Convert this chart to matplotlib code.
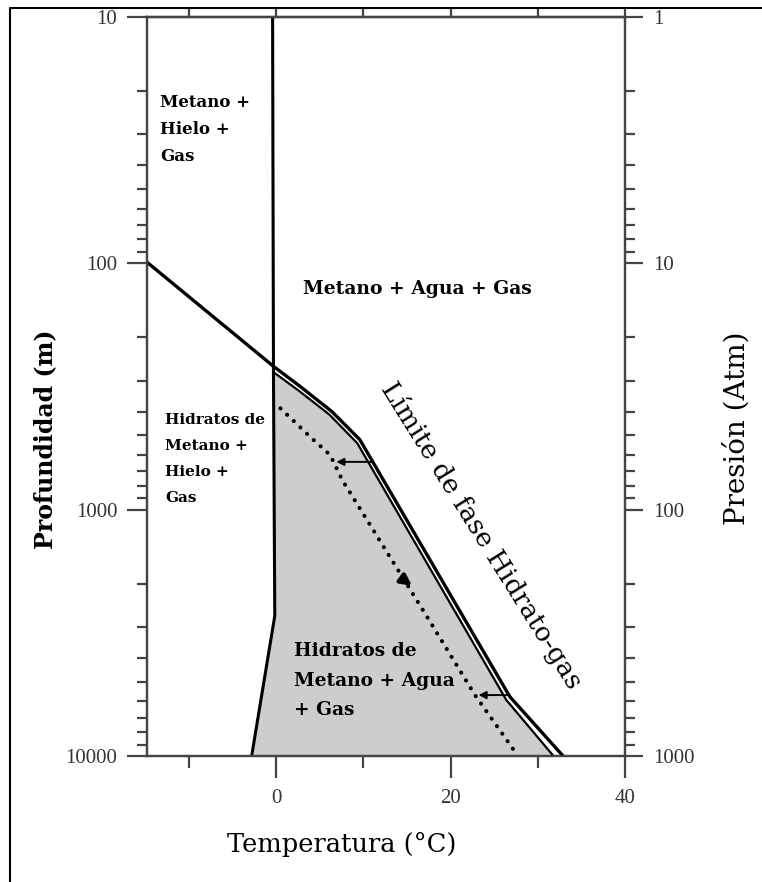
import matplotlib.pyplot as plt
from matplotlib.lines import Line2D
from matplotlib.ticker import NullFormatter

# curva de fusión del hielo: temperatura (°C) y profundidad (m)
hielo_t = [-0.4, -0.3, -0.15, -2.8]
hielo_z = [10, 280, 2700, 10000]

# límite de fase hidrato-gas (línea exterior, empieza en el eje)
limite_t = [-14.8, -0.3, 2.8, 6.4, 9.6, 26.8, 32.9]
limite_z = [99, 262, 317, 400, 520, 5750, 10000]

# línea interior que cierra la zona de estabilidad
interior_t = [-0.1, 2.5, 6.1, 9.3, 26.4, 31.8]
interior_z = [280, 327, 411, 537, 5930, 10000]

# perfil punteado
punteado_t = [0.5, 3.9, 6.2, 7.6, 17.3, 22.8, 27.4]
punteado_z = [388, 506, 600, 760, 2720, 5660, 9620]

# flechas: (desde, hasta)
flechas = [((11.0, 640), (6.9, 640)), ((26.8, 5660), (23.2, 5660))]
flecha_perfil = ((14.4, 1900), (15.6, 2040))

prof_ticks = [10, 100, 1000, 10000]
pres_ticks = [1, 10, 100, 1000]
temp_ticks = [0, 20, 40]
temp_minor = [-10, 10, 30]

# etiquetas de cada zona: texto, t, z, tamaño, interlineado
zonas = [
    ("Metano +\nHielo +\nGas", -13.3, 20.5, 12, 1.78),
    ("Metano + Agua + Gas", 3.1, 117, 13.5, 1.2),
    ("Hidratos de\nMetano +\nHielo +\nGas", -12.7, 405, 11, 2.1),
    ("Hidratos de\nMetano + Agua\n+ Gas", 2.0, 3450, 13.4, 1.82),
]

plt.rcParams['font.family'] = 'Liberation Serif'
eje_color = '#444444'

fig = plt.figure(figsize=(7.62, 8.82), dpi=100)
ax = fig.add_axes([0.1929, 0.1429, 0.6273, 0.8379])
ax.set_xlim(-14.8, 40)
ax.set_yscale('log')
ax.set_ylim(10000, 10)

# zona de estabilidad en gris
fill_t = interior_t + [hielo_t[3], hielo_t[2], hielo_t[1]]
fill_z = interior_z + [hielo_z[3], hielo_z[2], hielo_z[1]]
ax.fill(fill_t, fill_z, color='#cdcdcd', lw=0, zorder=1)

ax.plot(hielo_t, hielo_z, color='black', lw=2.2, zorder=3)
ax.plot(limite_t, limite_z, color='black', lw=2.4, zorder=3)
ax.plot(interior_t, interior_z, color='black', lw=1.6, zorder=3)
ax.plot(punteado_t, punteado_z, color='black', lw=3.0,
        linestyle=(0, (0.01, 2.2)), dash_capstyle='round', zorder=3)

for ini, fin in flechas:
    ax.annotate('', xy=fin, xytext=ini,
                arrowprops=dict(arrowstyle='-|>', color='black', lw=1.4,
                                mutation_scale=11, shrinkA=0, shrinkB=0))
ax.annotate('', xy=flecha_perfil[1], xytext=flecha_perfil[0],
            arrowprops=dict(arrowstyle='-|>', color='black', lw=3,
                            mutation_scale=16, shrinkA=0, shrinkB=0))

for txt, t, z, fs, ls in zonas:
    ax.text(t, z, txt, ha='left', va='top', fontsize=fs, family='DejaVu Serif',
            fontweight='bold', linespacing=ls, zorder=4)

ax.text(23.6, 1268, "Límite de fase Hidrato-gas", rotation=-58, fontsize=19,
        family='DejaVu Serif', ha='center', va='center', rotation_mode='anchor')

# ejes: profundidad a la izquierda, presión a la derecha
ax.set_yticks(prof_ticks)
ax.set_yticklabels([str(v) for v in prof_ticks])
ax.yaxis.set_minor_formatter(NullFormatter())
ax.set_xticks(temp_ticks)
ax.set_xticks(temp_minor, minor=True)
ax.tick_params(axis='y', which='major', length=14.4, width=1.6, pad=7,
               labelsize=15, color=eje_color, labelcolor='#333333')
ax.tick_params(axis='y', which='minor', length=7.2, width=1.6, color=eje_color)
ax.tick_params(axis='x', which='major', length=15.8, width=1.6, pad=8,
               labelsize=15, color=eje_color, labelcolor='#333333')
ax.tick_params(axis='x', which='minor', length=8.6, width=1.6, color=eje_color)

top = ax.secondary_xaxis('top')
top.set_xticks(temp_minor + temp_ticks)
top.tick_params(length=5.8, width=1.6, color=eje_color, labeltop=False)

ax2 = ax.twinx()
ax2.set_yscale('log')
ax2.set_ylim(1000, 1)
ax2.set_yticks(pres_ticks)
ax2.set_yticklabels([str(v) for v in pres_ticks])
ax2.yaxis.set_minor_formatter(NullFormatter())
ax2.tick_params(axis='y', which='major', length=13, width=1.6, pad=7,
                labelsize=15, color=eje_color, labelcolor='#333333')
ax2.tick_params(axis='y', which='minor', length=7.2, width=1.6, color=eje_color)

for a in (ax, ax2, top):
    for s in a.spines.values():
        s.set_linewidth(1.6)
        s.set_color(eje_color)

fig.text(0.059, 0.502, "Profundidad (m)", rotation=90, ha='center', va='center',
         fontsize=17, family='DejaVu Serif', fontweight='bold')
fig.text(0.967, 0.515, "Presión (Atm)", rotation=90, ha='center', va='center',
         fontsize=20, family='DejaVu Serif')
fig.text(0.449, 0.042, "Temperatura (°C)", ha='center', va='center',
         fontsize=18.5, family='DejaVu Serif')

# marco exterior
fig.add_artist(Line2D([0.0131, 0.0131, 1.0], [0.0, 0.9909, 0.9909],
                      color='black', lw=1.5, transform=fig.transFigure))

fig.savefig('out.png', dpi=100)
